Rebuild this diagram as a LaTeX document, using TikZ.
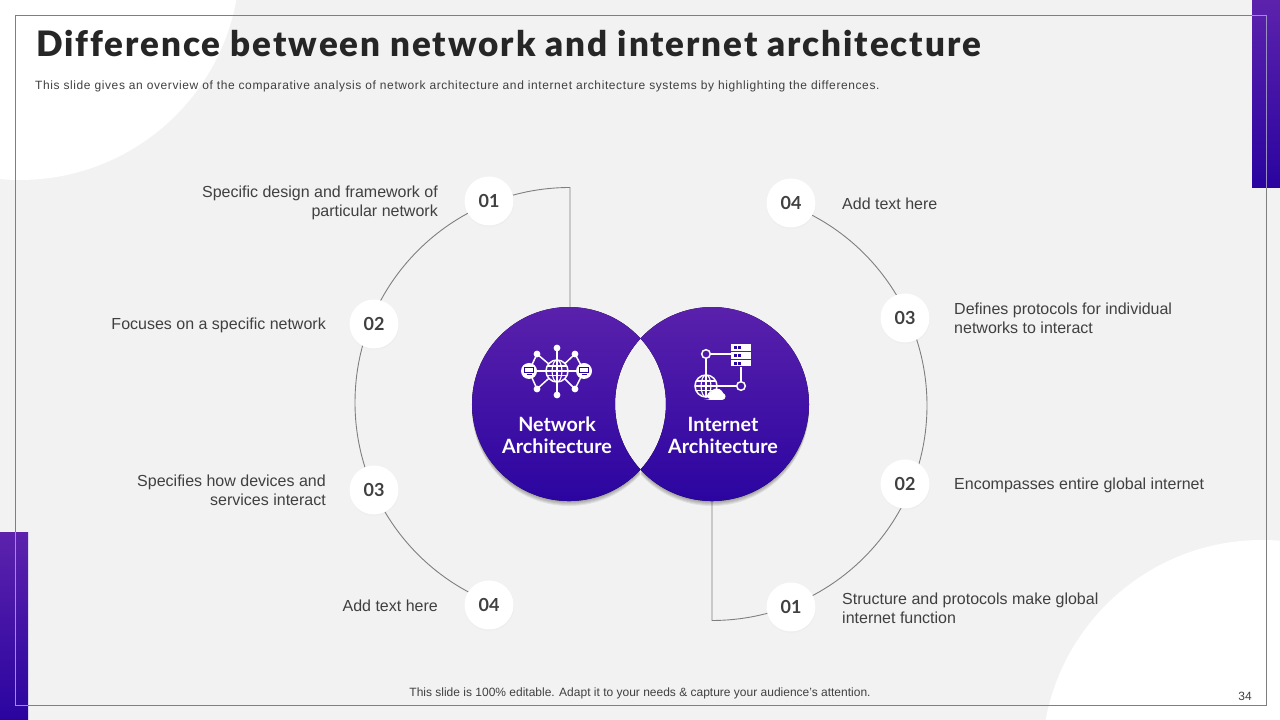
\documentclass[tikz,border=0pt]{standalone}
\usepackage{fontspec}
\usepackage{xcolor}
\usetikzlibrary{shadows}
\setmainfont{Liberation Sans}
\newfontfamily\gillfont{Lato}
\newfontfamily\titlefont[LetterSpace=5.5,Ligatures=NoCommon]{Lato Black}
\newfontfamily\subfont[LetterSpace=5]{Liberation Sans}
\definecolor{slidebg}{HTML}{F2F2F2}
\definecolor{purptop}{HTML}{5C22AC}
\definecolor{purpbot}{HTML}{2A04A0}
\definecolor{inktext}{HTML}{404040}
\definecolor{framegray}{HTML}{7F7F7F}
\definecolor{framelight}{HTML}{9D90C4}
\tikzset{
  numdot/.style={circle,fill=white,minimum size=49pt,inner sep=0pt,text=inktext,
    font=\gillfont\bfseries\fontsize{18}{20}\selectfont,
    circular drop shadow={opacity=0.06,shadow xshift=0pt,shadow yshift=-1pt,shadow scale=1.04}},
  lefttext/.style={align=right,anchor=east,inner sep=0pt,text=inktext,font=\fontsize{16}{19}\selectfont},
  righttext/.style={align=left,anchor=west,inner sep=0pt,text=inktext,font=\fontsize{16}{19}\selectfont},
  circlabel/.style={align=center,text=white,font=\gillfont\bfseries\fontsize{19.7}{22}\selectfont},
  purpfill/.style={top color=purptop,bottom color=purpbot},
  iconline/.style={white,line width=1.5pt},
}
\begin{document}
\begin{tikzpicture}[x=1pt,y=1pt]

  \def\leftshape{(640.5,381.5) arc[start angle=42.5,end angle=317.5,radius=97]
    arc[start angle=222.5,end angle=137.5,radius=97] -- cycle}
  \def\rightshape{(640.5,381.5) arc[start angle=137.5,end angle=-137.5,radius=97]
    arc[start angle=-42.5,end angle=42.5,radius=97] -- cycle}
  \def\globeicon#1#2{
    \begin{scope}[shift={#1}]
      \draw[iconline,fill=purptop!70!purpbot] (0,0) circle [radius=#2];
      \draw[iconline,line width=1.1pt] (0,0) ellipse [x radius=0.45*#2,y radius=#2];
      \draw[iconline,line width=1.1pt] (0,#2) -- (0,-#2);
      \draw[iconline,line width=1.1pt] (-#2,0) -- (#2,0);
      \draw[iconline,line width=1.1pt] (-0.9*#2,0.45*#2) -- (0.9*#2,0.45*#2);
      \draw[iconline,line width=1.1pt] (-0.9*#2,-0.45*#2) -- (0.9*#2,-0.45*#2);
    \end{scope}
  }
  \def\monitoricon#1{
    \begin{scope}[shift={#1}]
      \fill[white] (0,0) circle [radius=8];
      \draw[purpbot,line width=0.8pt] (-4.5,-1.8) rectangle (4.5,3.8);
      \draw[purpbot,line width=0.8pt] (-2.5,-3.6) -- (2.5,-3.6);
    \end{scope}
  }

  \useasboundingbox (0,0) rectangle (1280,720);
  \clip (0,0) rectangle (1280,720);
  \fill[slidebg] (0,0) rectangle (1280,720);
  \fill[white] (20,760) circle [radius=220];
  \fill[white] (1262,-40) circle [radius=220];

  % frame and side bars
  \draw[framegray,line width=1pt] (15,14.5) rectangle (1266,704.7);
  \fill[purpfill] (1252,532) rectangle (1280,720);
  \fill[purpfill] (0,0) rectangle (28,187.6);
  \draw[framelight,line width=1pt] (1252,704.7) -- (1266,704.7) -- (1266,532);
  \draw[framelight,line width=1pt] (15,187.6) -- (15,14.5) -- (28,14.5);

  \node[anchor=base west,inner sep=0pt,text=black!85] (title) at (36,663)
    {\titlefont\fontsize{35}{40}\selectfont Difference between network and internet architecture};
  \node[anchor=base west,inner sep=0pt,text=inktext] (subtitle) at (35,630)
    {\subfont\fontsize{12}{14}\selectfont This slide gives an overview of the comparative analysis of network architecture and internet architecture systems by highlighting the differences.};

  % connectors
  \coordinate (nettop) at (570,413);
  \coordinate (netcorner) at (570,532.5);
  \coordinate (intbot) at (712,219);
  \coordinate (intcorner) at (712,99.5);
  \draw[framegray,line width=0.9pt] (nettop) -- (netcorner)
    arc[start angle=90,end angle=248,radius=215];
  \draw[framegray,line width=0.9pt] (intbot) -- (intcorner)
    arc[start angle=270,end angle=428.5,radius=215];

  % two circles with the lens cut out
  \foreach \s in {1,...,5}
  {
    \fill[black,opacity=0.07,yshift=-\s pt] \leftshape;
    \fill[black,opacity=0.07,yshift=-\s pt] \rightshape;
  }
  \begin{scope}
    \clip (569,316) circle [radius=97];
    \fill[slidebg] (712,316) circle [radius=97];
  \end{scope}
  \fill[purpfill] \leftshape;
  \fill[purpfill] \rightshape;

  \node[circlabel] (netlabel) at (557,285) {Network\\Architecture};
  \node[circlabel] (intlabel) at (723,285) {Internet\\Architecture};

  % network icon
  \foreach \x/\y in {557/372,557/325,537/366,575/366,537/331,575/331}
  {
    \draw[iconline] (557,349) -- (\x,\y);
    \fill[white] (\x,\y) circle [radius=3.4];
  }
  \draw[iconline] (529,349) -- (584,349);
  \foreach \x/\m in {537/529,575/584}
  {
    \draw[iconline] (\x,366) -- (\m,349);
    \draw[iconline] (\x,331) -- (\m,349);
  }
  \globeicon{(557,349)}{11}
  \monitoricon{(529,349)}
  \monitoricon{(584,349)}

  % internet icon
  \draw[iconline] (710,366) -- (731,366);
  \draw[iconline] (706,362) -- (706,334);
  \draw[iconline] (717,334) -- (737,334);
  \draw[iconline] (741,353) -- (741,338);
  \draw[iconline] (706,366) circle [radius=4.3];
  \draw[iconline] (741,334) circle [radius=4.3];
  \foreach \y in {369,361.3,353.6}
  {
    \fill[white] (731,\y) rectangle (751,\y+6.6);
    \fill[purpbot] (733.5,\y+1.8) rectangle (736.5,\y+4.8);
    \fill[purpbot] (738,\y+1.8) rectangle (741,\y+4.8);
  }
  \globeicon{(706,334)}{11}
  \fill[white] (704,320) -- (722,320) arc[start angle=-90,end angle=70,radius=3.5]
    arc[start angle=20,end angle=150,radius=7] arc[start angle=90,end angle=270,radius=3.5] -- cycle;

  % numbered points, left
  \node[numdot] (leftone) at (489,519) {01};
  \node[numdot] (lefttwo) at (374,396) {02};
  \node[numdot] (leftthree) at (374,230) {03};
  \node[numdot] (leftfour) at (489,115) {04};
  % numbered points, right
  \node[numdot] (rightfour) at (791,517) {04};
  \node[numdot] (rightthree) at (905,402) {03};
  \node[numdot] (righttwo) at (905,236) {02};
  \node[numdot] (rightone) at (791,113) {01};

  \node[lefttext] (ltextone) at (438,517.5) {Specific design and framework of\\particular network};
  \node[lefttext] (ltexttwo) at (326,394.5) {Focuses on a specific network};
  \node[lefttext] (ltextthree) at (326,230) {Specifies how devices and\\services interact};
  \node[lefttext] (ltextfour) at (438,114) {Add text here};

  \node[righttext] (rtextfour) at (842,516) {Add text here};
  \node[righttext] (rtextthree) at (954,402) {Defines protocols for individual\\networks to interact};
  \node[righttext] (rtexttwo) at (954,234.5) {Encompasses entire global internet};
  \node[righttext] (rtextone) at (842,112) {Structure and protocols make global\\internet function};

  \node[text=inktext,font=\fontsize{12}{13}\selectfont] (footer) at (640,27)
    {This slide is 100\% editable. Adapt it to your needs \& capture your audience's attention.};
  \node[text=inktext,font=\fontsize{12}{14}\selectfont] (pagenum) at (1245,23.5) {34};

\end{tikzpicture}
\end{document}
